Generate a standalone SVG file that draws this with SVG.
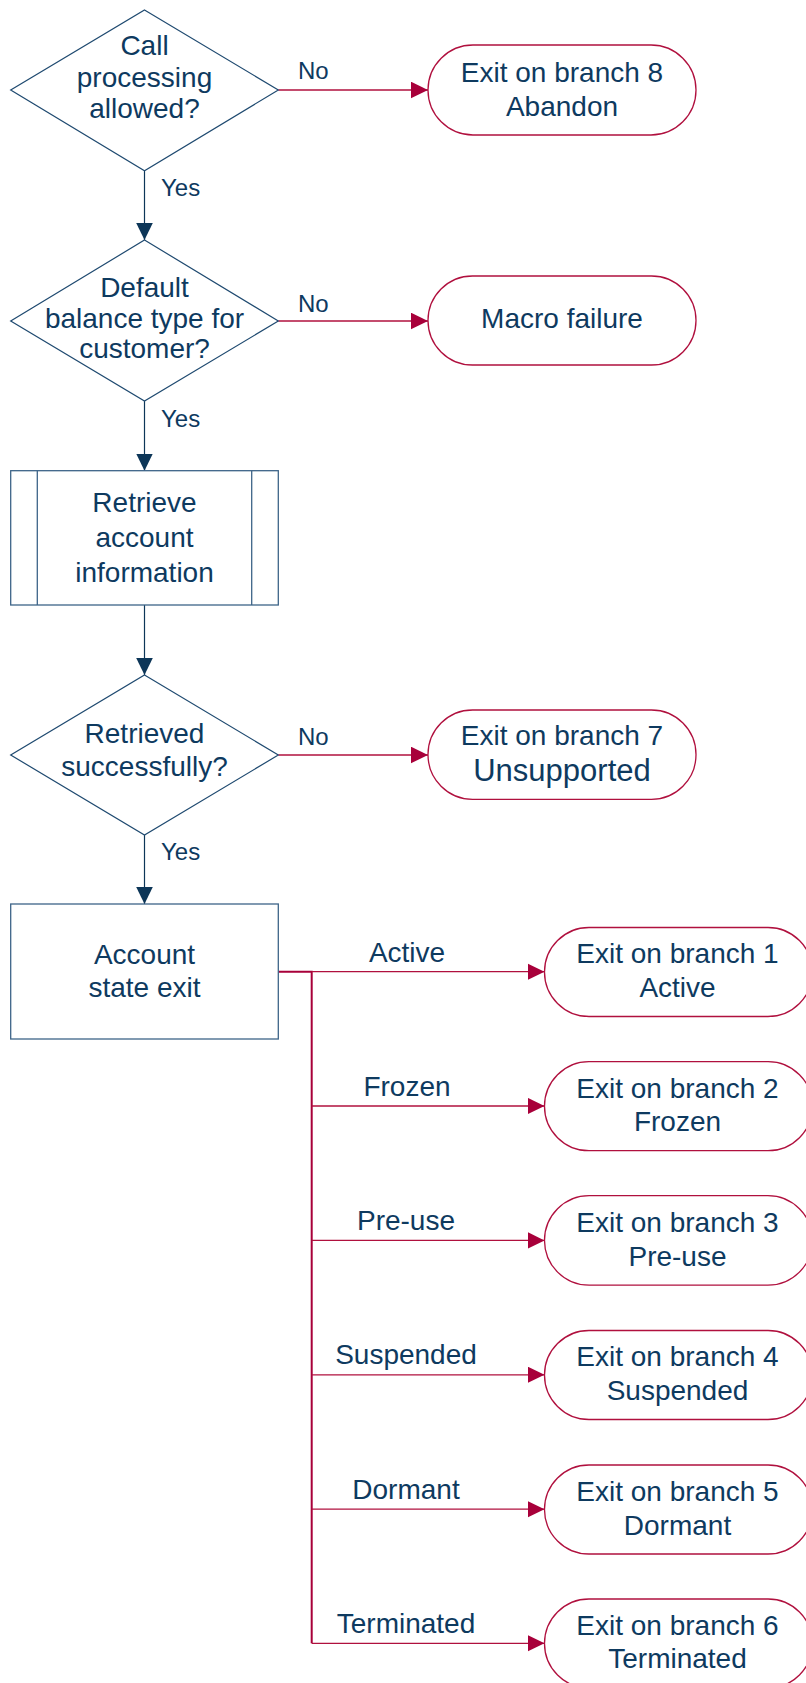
<svg xmlns="http://www.w3.org/2000/svg" width="806" height="1683" viewBox="0 0 806 1683">
<defs>
<style>
.bg{fill:#ffffff}
.dec{fill:#ffffff;stroke:#1f4a70;stroke-width:1.2}
.box{fill:#ffffff;stroke:#3d6488;stroke-width:1.3}
.pill{fill:#ffffff;stroke:#b0103e;stroke-width:1.3}
.t{font-family:"Liberation Sans",Arial,sans-serif;font-size:28px;fill:#0e3a5f;text-anchor:middle}
.big{font-size:31px}
.lbl{font-family:"Liberation Sans",Arial,sans-serif;font-size:24px;fill:#0e3a5f}
.bl{font-family:"Liberation Sans",Arial,sans-serif;font-size:28px;fill:#0e3a5f;text-anchor:middle}
.cb{fill:none;stroke:#0d3658;stroke-width:1.2}
.cr{fill:none;stroke:#b0103e;stroke-width:1.3}
.trunk{fill:none;stroke:#a8003a;stroke-width:2}
</style>
<marker id="ab" markerUnits="userSpaceOnUse" markerWidth="18" markerHeight="18" refX="17" refY="8.3" orient="auto">
<path d="M0,0 L17,8.3 L0,16.6 z" fill="#0d3658"/>
</marker>
<marker id="ar" markerUnits="userSpaceOnUse" markerWidth="18" markerHeight="18" refX="17" refY="8.3" orient="auto">
<path d="M0,0 L17,8.3 L0,16.6 z" fill="#a8003a"/>
</marker>
</defs>
<rect class="bg" x="0" y="0" width="806" height="1683"/>

<g id="connectors">
<path class="cb" d="M144.5,170.7 V240" marker-end="url(#ab)"/>
<path class="cb" d="M144.5,401 V470.7" marker-end="url(#ab)"/>
<path class="cb" d="M144.5,605 V675" marker-end="url(#ab)"/>
<path class="cb" d="M144.5,835 V904" marker-end="url(#ab)"/>
<path class="cr" d="M278.3,90 H428" marker-end="url(#ar)"/>
<path class="cr" d="M278.3,321 H428" marker-end="url(#ar)"/>
<path class="cr" d="M278.3,755 H428" marker-end="url(#ar)"/>
<path class="trunk" d="M278.3,971.7 H311.7 V1643.3"/>
<path class="cr" d="M311.7,971.7 H544.5" marker-end="url(#ar)"/>
<path class="cr" d="M311.7,1106 H544.5" marker-end="url(#ar)"/>
<path class="cr" d="M311.7,1240.4 H544.5" marker-end="url(#ar)"/>
<path class="cr" d="M311.7,1374.8 H544.5" marker-end="url(#ar)"/>
<path class="cr" d="M311.7,1509.2 H544.5" marker-end="url(#ar)"/>
<path class="cr" d="M311.7,1643.3 H544.5" marker-end="url(#ar)"/>
<text class="lbl" x="298" y="79">No</text>
<text class="lbl" x="298" y="311.7">No</text>
<text class="lbl" x="298" y="745">No</text>
<text class="lbl" x="161" y="195.7">Yes</text>
<text class="lbl" x="161" y="427">Yes</text>
<text class="lbl" x="161" y="860">Yes</text>
<text class="bl" x="407" y="961.5">Active</text>
<text class="bl" x="407" y="1095.5">Frozen</text>
<text class="bl" x="406" y="1230">Pre-use</text>
<text class="bl" x="406" y="1364.3">Suspended</text>
<text class="bl" x="406" y="1499">Dormant</text>
<text class="bl" x="406" y="1633">Terminated</text>
</g>

<g id="d1">
<polygon class="dec" points="144.5,10 278.3,90 144.5,170.7 10.7,90"/>
<text class="t" x="144.5" y="55">Call</text>
<text class="t" x="144.5" y="87">processing</text>
<text class="t" x="144.5" y="118">allowed?</text>
</g>

<g id="d2">
<polygon class="dec" points="144.5,240 278.3,321 144.5,401 10.7,321"/>
<text class="t" x="144.5" y="297">Default</text>
<text class="t" x="144.5" y="328">balance type for</text>
<text class="t" x="144.5" y="358">customer?</text>
</g>

<g id="p1">
<rect class="box" x="10.7" y="470.7" width="267.6" height="134.3"/>
<line class="box" x1="37.3" y1="470.7" x2="37.3" y2="605"/>
<line class="box" x1="251.7" y1="470.7" x2="251.7" y2="605"/>
<text class="t" x="144.5" y="511.7">Retrieve</text>
<text class="t" x="144.5" y="546.7">account</text>
<text class="t" x="144.5" y="581.7">information</text>
</g>

<g id="d3">
<polygon class="dec" points="144.5,675 278.3,755 144.5,835 10.7,755"/>
<text class="t" x="144.5" y="742.7">Retrieved</text>
<text class="t" x="144.5" y="776">successfully?</text>
</g>

<g id="b1">
<rect class="box" x="10.7" y="904" width="267.6" height="135"/>
<text class="t" x="144.5" y="964">Account</text>
<text class="t" x="144.5" y="997.3">state exit</text>
</g>

<g id="e8">
<rect class="pill" x="428" y="45" width="268" height="90" rx="45" ry="45"/>
<text class="t" x="562" y="81.5">Exit on branch 8</text>
<text class="t" x="562" y="115.5">Abandon</text>
</g>

<g id="emacro">
<rect class="pill" x="428" y="276" width="268" height="89" rx="44.5" ry="44.5"/>
<text class="t" x="562" y="328.3">Macro failure</text>
</g>

<g id="e7">
<rect class="pill" x="428" y="710" width="268" height="89.3" rx="44.6" ry="44.6"/>
<text class="t" x="562" y="744.5">Exit on branch 7</text>
<text class="t big" x="562" y="781">Unsupported</text>
</g>

<g id="e1">
<rect class="pill" x="544.5" y="927.5" width="268" height="89" rx="44.5" ry="44.5"/>
<text class="t" x="677.5" y="963.3">Exit on branch 1</text>
<text class="t" x="677.5" y="996.7">Active</text>
</g>

<g id="e2">
<rect class="pill" x="544.5" y="1061.7" width="268" height="89" rx="44.5" ry="44.5"/>
<text class="t" x="677.5" y="1097.5">Exit on branch 2</text>
<text class="t" x="677.5" y="1131">Frozen</text>
</g>

<g id="e3">
<rect class="pill" x="544.5" y="1195.7" width="268" height="89.5" rx="44.7" ry="44.7"/>
<text class="t" x="677.5" y="1231.7">Exit on branch 3</text>
<text class="t" x="677.5" y="1266">Pre-use</text>
</g>

<g id="e4">
<rect class="pill" x="544.5" y="1330.5" width="268" height="89" rx="44.5" ry="44.5"/>
<text class="t" x="677.5" y="1366">Exit on branch 4</text>
<text class="t" x="677.5" y="1400">Suspended</text>
</g>

<g id="e5">
<rect class="pill" x="544.5" y="1465" width="268" height="89" rx="44.5" ry="44.5"/>
<text class="t" x="677.5" y="1501">Exit on branch 5</text>
<text class="t" x="677.5" y="1535">Dormant</text>
</g>

<g id="e6">
<rect class="pill" x="544.5" y="1599" width="268" height="89" rx="44.5" ry="44.5"/>
<text class="t" x="677.5" y="1635">Exit on branch 6</text>
<text class="t" x="677.5" y="1668">Terminated</text>
</g>
</svg>
